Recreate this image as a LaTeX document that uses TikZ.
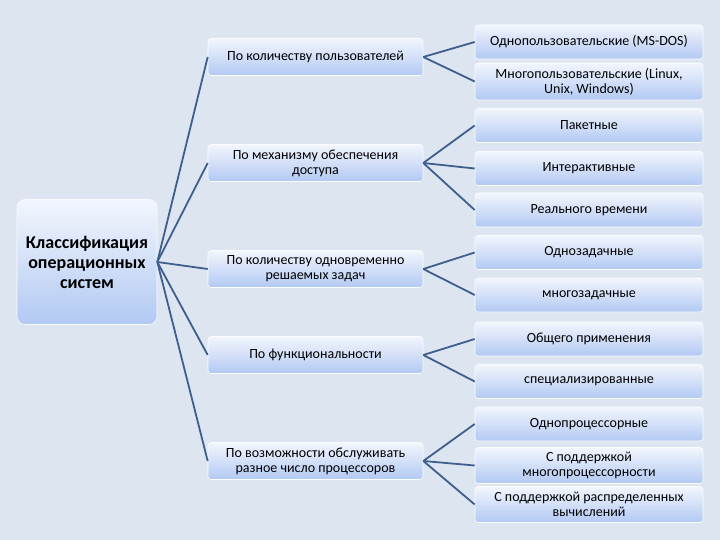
\documentclass[tikz,border=0pt]{standalone}
\usepackage{fontspec}
\setmainfont{Carlito}
\usepackage{tikz}
\usetikzlibrary{positioning}

\definecolor{bgcol}{RGB}{221,229,240}
\definecolor{boxtop}{RGB}{242,246,253}
\definecolor{boxbot}{RGB}{178,201,243}
\definecolor{linkcol}{RGB}{62,95,142}

\begin{document}
\begin{tikzpicture}[x=1pt, y=-1pt,
    every node/.style={font=\fontsize{14}{15}\selectfont, text=black},
    catbox/.style={rounded corners=3pt, top color=boxtop, bottom color=boxbot, draw=white!70!boxtop, line width=0.6pt, align=center, inner sep=2pt},
    midbox/.style={catbox, minimum width=215pt, minimum height=37pt},
    leafbox/.style={catbox, minimum width=228pt, minimum height=34pt},
    link/.style={draw=linkcol, line width=1.8pt}]
    \fill[bgcol] (0,0) rectangle (720,540);
    \useasboundingbox (0,0) rectangle (720,540);

    % root
    \node[catbox, minimum width=140pt, minimum height=125pt, rounded corners=8pt, font=\fontsize{18}{20}\selectfont\bfseries] (os) at (87,262) {Классификация\\операционных\\систем};

    % criteria
    \node[midbox] (users) at (315.5,57) {По количеству пользователей};
    \node[midbox] (access) at (315.5,163) {По механизму обеспечения\\доступа};
    \node[midbox] (tasks) at (315.5,269) {По количеству одновременно\\решаемых задач};
    \node[midbox] (func) at (315.5,355) {По функциональности};
    \node[midbox] (cpus) at (315.5,461) {По возможности обслуживать\\разное число процессоров};

    % leaves
    \node[leafbox] (single) at (589,42) {Однопользовательские (MS-DOS)};
    \node[leafbox, minimum height=37pt] (multi) at (589,81.5) {Многопользовательские (Linux,\\Unix, Windows)};
    \node[leafbox] (batch) at (589,125.5) {Пакетные};
    \node[leafbox] (inter) at (589,168.5) {Интерактивные};
    \node[leafbox] (realtime) at (589,210) {Реального времени};
    \node[leafbox] (onetask) at (589,252.5) {Однозадачные};
    \node[leafbox] (multitask) at (589,295) {многозадачные};
    \node[leafbox] (general) at (589,339) {Общего применения};
    \node[leafbox] (special) at (589,381.5) {специализированные};
    \node[leafbox] (onecpu) at (589,424) {Однопроцессорные};
    \node[leafbox, minimum height=36pt] (multicpu) at (589,465.5) {С поддержкой\\многопроцессорности};
    \node[leafbox, minimum height=36pt] (distrib) at (589,504.5) {С поддержкой распределенных\\вычислений};

    \foreach \m in {users, access, tasks, func, cpus}
        \draw[link] (os.east) -- (\m.west);
    \draw[link] (users.east) -- (single.west);
    \draw[link] (users.east) -- (multi.west);
    \draw[link] (access.east) -- (batch.west);
    \draw[link] (access.east) -- (inter.west);
    \draw[link] (access.east) -- (realtime.west);
    \draw[link] (tasks.east) -- (onetask.west);
    \draw[link] (tasks.east) -- (multitask.west);
    \draw[link] (func.east) -- (general.west);
    \draw[link] (func.east) -- (special.west);
    \draw[link] (cpus.east) -- (onecpu.west);
    \draw[link] (cpus.east) -- (multicpu.west);
    \draw[link] (cpus.east) -- (distrib.west);
\end{tikzpicture}
\end{document}
